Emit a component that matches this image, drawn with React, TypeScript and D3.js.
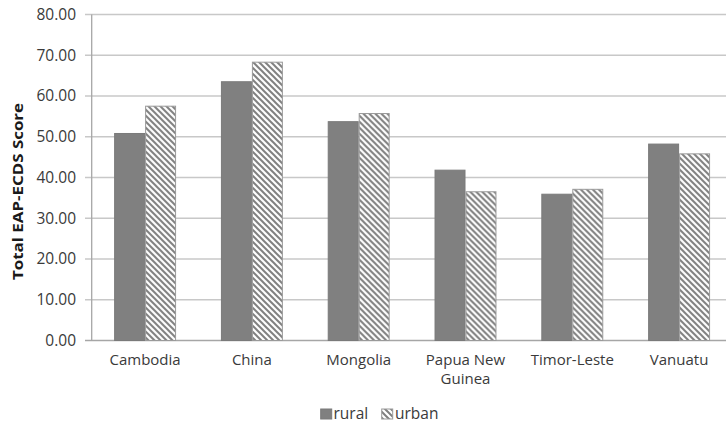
import React from "react";
import * as d3 from "d3";

const countries = ["Cambodia", "China", "Mongolia", "Papua New Guinea", "Timor-Leste", "Vanuatu"];
const countryLines = [["Cambodia"], ["China"], ["Mongolia"], ["Papua New", "Guinea"], ["Timor-Leste"], ["Vanuatu"]];
const seriesNames = ["rural", "urban"];
const ruralScores = [50.8, 63.5, 53.7, 41.8, 35.9, 48.2];
const urbanScores = [57.5, 68.3, 55.7, 36.5, 37.1, 45.8];
const yTicks = [0, 10, 20, 30, 40, 50, 60, 70, 80];

const W = 726;
const H = 423;
const left = 91.7;
const right = 732.5;
const top = 14.5;
const bottom = 340.5;
const FONT = "'Open Sans', sans-serif";
const TEXT = "#3a3a3a";

export default function App() {
  const x = d3.scaleBand<string>().domain(countries).range([left, right]).paddingInner(0.42).paddingOuter(0.21);
  const xs = d3.scaleBand<string>().domain(seriesNames).range([0, x.bandwidth()]);
  const y = d3.scaleLinear().domain([0, 80]).range([bottom, top]);
  const values: Record<string, number[]> = { rural: ruralScores, urban: urbanScores };

  return (
    <svg width={W} height={H} style={{ position: "absolute", left: 0, top: 0, background: "#fff" }}>
      <defs>
        <pattern id="hatch" patternUnits="userSpaceOnUse" width={6} height={6}>
          <rect width={6} height={6} fill="#fff" />
          <path d="M-1,-1 L7,7 M-1,5 L1,7 M5,-1 L7,1" stroke="#7f7f7f" strokeWidth={2} />
        </pattern>
      </defs>

      {/* gridlines and y ticks */}
      {yTicks.map((t) => (
        <g key={t}>
          <line x1={85} x2={W} y1={y(t)} y2={y(t)} stroke={t === 0 ? "#a6a6a6" : "#c8c8c8"} strokeWidth={1.3} />
          <text x={76} y={y(t)} dy="0.35em" textAnchor="end" fontFamily={FONT} fontSize={15.5} fill={TEXT}>
            {t.toFixed(2)}
          </text>
        </g>
      ))}
      <line x1={left} x2={left} y1={top} y2={bottom} stroke="#a6a6a6" strokeWidth={1.3} />

      {/* bars */}
      {countries.map((c, i) => (
        <g key={c} transform={`translate(${x(c)},0)`}>
          {seriesNames.map((s) => {
            const v = values[s][i];
            return (
              <rect
                key={s}
                x={xs(s)! + 0.5}
                y={y(v)}
                width={xs.bandwidth() - 1}
                height={bottom - y(v)}
                fill={s === "rural" ? "#808080" : "url(#hatch)"}
                stroke={s === "rural" ? "#7a7a7a" : "#9a9a9a"}
                strokeWidth={1}
              />
            );
          })}
        </g>
      ))}

      {/* category labels */}
      {countries.map((c, i) => (
        <text key={c} x={x(c)! + x.bandwidth() / 2} y={365} textAnchor="middle" fontFamily={FONT} fontSize={15} fill={TEXT}>
          {countryLines[i].map((ln, j) => (
            <tspan key={j} x={x(c)! + x.bandwidth() / 2} dy={j === 0 ? 0 : 18.5}>
              {ln}
            </tspan>
          ))}
        </text>
      ))}

      {/* y axis title */}
      <text
        transform={`translate(23,191.5) rotate(-90)`}
        textAnchor="middle"
        fontFamily={FONT}
        fontWeight="bold"
        fontSize={15}
        textLength={177}
        lengthAdjust="spacingAndGlyphs"
        fill="#1a1a1a"
      >
        Total EAP-ECDS Score
      </text>

      {/* legend */}
      <rect x={320.7} y={409} width={11} height={10} fill="#808080" stroke="#7a7a7a" />
      <text x={333.5} y={419} fontFamily={FONT} fontSize={15.5} fill={TEXT}>rural</text>
      <rect x={381.7} y={409} width={11} height={10} fill="url(#hatch)" stroke="#9a9a9a" />
      <text x={395} y={419} fontFamily={FONT} fontSize={15.5} fill={TEXT}>urban</text>
    </svg>
  );
}
